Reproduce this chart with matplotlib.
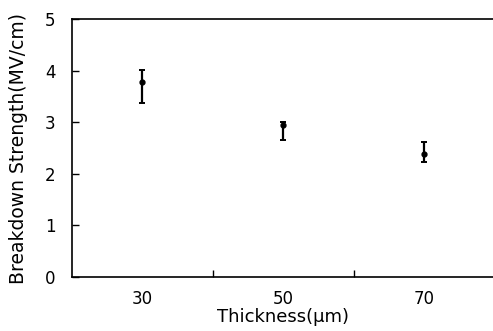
import matplotlib
matplotlib.use("Agg")
import matplotlib.pyplot as plt
import numpy as np

plt.rcParams['font.family'] = ['DejaVu Sans']

thickness = [30, 50, 70]
strength = [3.77, 2.95, 2.38]
err_low = [0.39, 0.30, 0.15]
err_high = [0.24, 0.06, 0.24]
xticks_major = [40, 60]
xtick_labels = ['30', '50', '70']

fig = plt.figure(figsize=(4.93, 3.31), dpi=100)
ax = fig.add_axes([72/493, 54/331, 1 - 72/493 + 0.003, 258/331])

ax.errorbar(thickness, strength, yerr=[err_low, err_high], fmt='o', color='black',
            markersize=3.5, elinewidth=1.6, capsize=2.2, capthick=1.4)

ax.set_xlim(20, 80)
ax.set_ylim(0, 5)
ax.set_yticks([0, 1, 2, 3, 4, 5])
ax.set_xticks(xticks_major)
ax.set_xticklabels([])
ax.set_xticks(thickness, minor=True)
ax.set_xticklabels(xtick_labels, minor=True)
ax.tick_params(axis='x', which='minor', length=0, pad=9, labelsize=12)
ax.tick_params(axis='x', which='major', direction='in', length=5, width=1)
ax.tick_params(axis='y', direction='in', length=5, width=1, pad=12, labelsize=12)
ax.spines['right'].set_visible(False)
for s in ['left', 'bottom', 'top']:
    ax.spines[s].set_linewidth(1.2)

ax.set_xlabel('Thickness(\u00b5m)', fontsize=13)
ax.set_ylabel('Breakdown Strength(MV/cm)', fontsize=13.5)
ax.xaxis.set_label_coords(0.5, -0.122)
ax.yaxis.set_label_coords(-0.105, 0.5)

fig.savefig('out.png', dpi=100)
